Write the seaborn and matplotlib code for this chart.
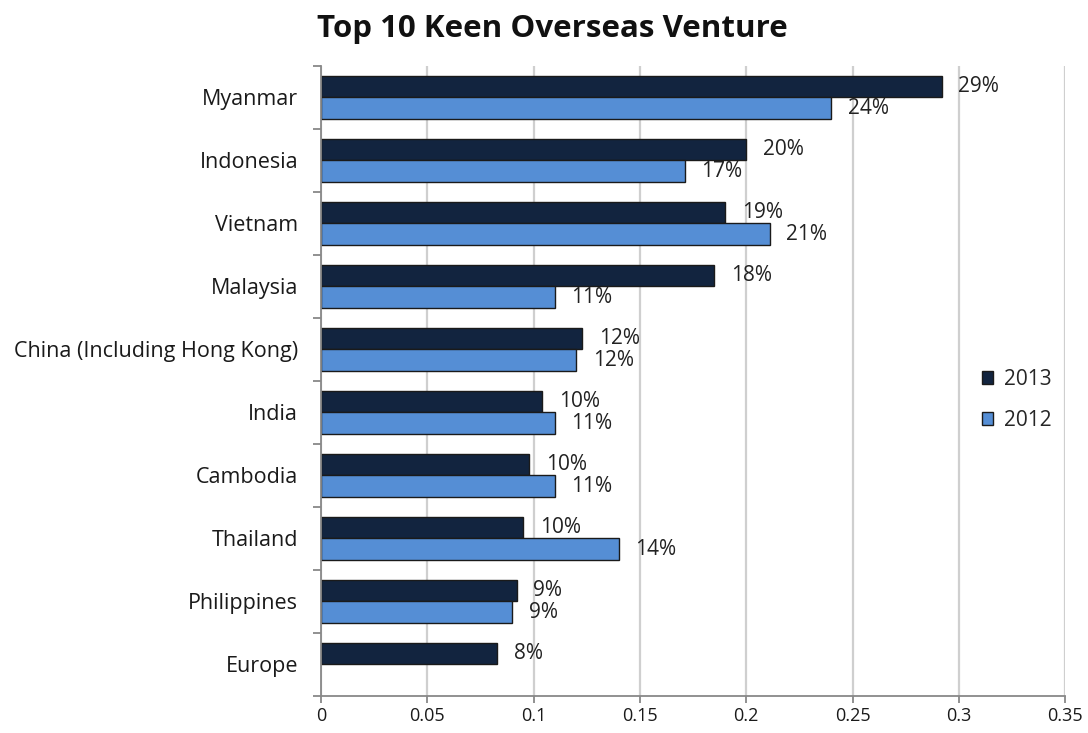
import numpy as np
import pandas as pd
import seaborn as sns
import matplotlib.pyplot as plt
from matplotlib.ticker import FixedLocator

countries = ["Myanmar", "Indonesia", "Vietnam", "Malaysia",
             "China (Including Hong Kong)", "India", "Cambodia",
             "Thailand", "Philippines", "Europe"]
share_2013 = [0.292, 0.200, 0.190, 0.185, 0.123, 0.104, 0.098, 0.095, 0.092, 0.083]
share_2012 = [0.240, 0.171, 0.211, 0.110, 0.120, 0.110, 0.110, 0.140, 0.090, np.nan]
label_2013 = ["29%", "20%", "19%", "18%", "12%", "10%", "10%", "10%", "9%", "8%"]
label_2012 = ["24%", "17%", "21%", "11%", "12%", "11%", "11%", "14%", "9%", ""]

df = pd.DataFrame({
    "Country": countries * 2,
    "Share": share_2013 + share_2012,
    "Year": ["2013"] * len(countries) + ["2012"] * len(countries),
})

sns.set_style("white")
plt.rcParams["font.family"] = ["Open Sans", "DejaVu Sans"]

fig = plt.figure(figsize=(10.88, 7.33), dpi=100)
ax = fig.add_axes([0.295, 0.0505, 0.684, 0.8595])

palette = {"2013": "#12243f", "2012": "#558ed5"}
sns.barplot(data=df, y="Country", x="Share", hue="Year", order=countries,
            hue_order=["2013", "2012"], palette=palette, width=0.68,
            edgecolor="#1a1a1a", linewidth=1.0, saturation=1, ax=ax, legend=True)

# value labels (skip the missing bar)
for container, labels in zip(ax.containers, [label_2013, label_2012]):
    for bar, lab in zip(container, labels):
        if bar is None or not lab:
            continue
        ax.annotate(lab, (bar.get_x() + bar.get_width(), bar.get_y() + bar.get_height() / 2),
                    xytext=(12, 0), textcoords="offset points", va="center", ha="left",
                    fontsize=15, color="#222222")

ax.set_xlim(0, 0.35)
ax.set_ylim(9.5, -0.5)
ax.set_xticks(np.arange(0, 0.351, 0.05))
ax.set_xticklabels(["0", "0.05", "0.1", "0.15", "0.2", "0.25", "0.3", "0.35"])
ax.grid(axis="x", color="#cfcfcf", linewidth=1.6)
ax.set_axisbelow(True)

# category separators as ticks (Excel style)
ax.yaxis.set_minor_locator(FixedLocator(np.arange(-0.5, 10, 1)))
ax.tick_params(axis="y", which="major", left=False, pad=13, labelsize=15.5, labelcolor="#1a1a1a")
ax.tick_params(axis="y", which="minor", left=True, length=6, width=1.3, color="#888888",
               direction="out")
ax.tick_params(axis="x", which="major", bottom=True, length=5, width=1.3, color="#888888",
               direction="out", labelsize=13, labelcolor="#1a1a1a", pad=3)

for side in ["top", "right"]:
    ax.spines[side].set_visible(False)
for side in ["left", "bottom"]:
    ax.spines[side].set_color("#888888")
    ax.spines[side].set_linewidth(1.3)

ax.set_xlabel("")
ax.set_ylabel("")

leg = ax.legend(loc="center left", bbox_to_anchor=(0.863, 0.47), frameon=False,
                fontsize=15, handlelength=0.55, handleheight=0.55,
                handletextpad=0.5, labelspacing=0.95)
for h in leg.legend_handles:
    h.set_edgecolor("#1a1a1a")

fig.text(0.508, 0.96, "Top 10 Keen Overseas Venture", ha="center", va="center",
         fontsize=22.5, fontweight="bold", color="#111111")

fig.savefig("out.png", dpi=100)
